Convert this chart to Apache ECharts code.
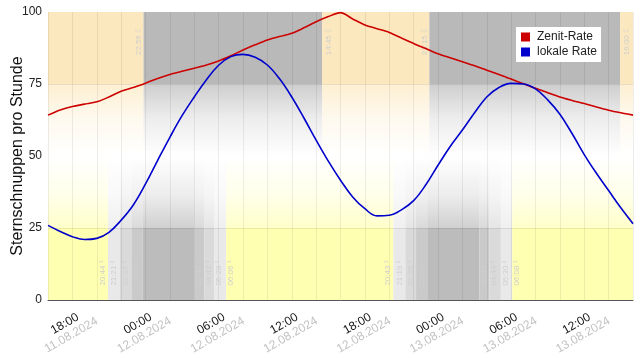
<!DOCTYPE html>
<html><head><meta charset="utf-8">
<script src="https://cdn.jsdelivr.net/npm/echarts@6/dist/echarts.min.js"></script>
<style>html,body{margin:0;padding:0;background:#fff}#c{width:640px;height:358px}</style>
</head><body><div id="c"></div>
<script>
// Hours since 11.08.2024 16:00
const hours = [0,1,2,3,4,5,6,7,8,9,10,11,12,13,14,15,16,17,18,19,20,21,22,23,24,25,26,27,28,29,30,31,32,33,34,35,36,37,38,39,40,41,42,43,44,45,46,47,48];
const zenitRate = [64.2,66.0,67.2,68.0,68.8,70.5,72.5,73.8,75.3,76.9,78.3,79.4,80.5,81.6,83.0,84.8,86.8,88.6,90.3,91.5,92.6,94.5,96.6,98.4,99.8,97.6,95.5,94.2,92.9,91.0,89.1,87.3,85.5,84.1,82.7,81.3,79.8,78.3,76.7,75.1,73.5,72.0,70.5,69.3,68.2,67.0,65.9,65.0,64.2];
const lokaleRate = [25.9,23.8,22.0,21.0,21.4,23.5,27.7,33.0,40.3,48.5,56.5,64.0,70.5,76.5,81.5,84.5,85.3,84.3,81.6,76.8,70.5,63.2,55.5,48.2,41.6,35.8,31.7,29.2,29.4,31.3,34.5,40.0,46.8,53.3,59.0,65.0,70.5,73.8,75.2,75.0,73.3,69.5,64.5,57.8,50.5,44.0,38.0,32.0,26.5];

const tickHours = [2,8,14,20,26,32,38,44];
const tickTimes = ['18:00','00:00','06:00','12:00','18:00','00:00','06:00','12:00'];
const tickDates = ['11.08.2024','12.08.2024','12.08.2024','12.08.2024','12.08.2024','13.08.2024','13.08.2024','13.08.2024'];

// Moon: starts up; events alternate set / rise
const moonEventHours = [7.84, 22.49, 31.29, 46.94];
const moonEventLabels = ['22:56','14:45','23:15','16:00'];
const moonEventKinds = ['set','rise','set','rise'];

// Sun: level after each event (0 day,1 civil,2 nautical,3 astronomical,4 night)
const sunEventHours = [4.92,5.88,6.84,7.76,12.02,12.84,13.66,14.62,28.34,29.32,30.20,31.12,35.40,36.22,37.16,38.09];
const sunEventLabels = ['20:44','21:21','22:07','23:03','03:46','04:42','05:28','06:06','20:43','21:19','22:05','23:00','03:49','04:44','05:30','06:08'];
const sunLevelAfter = [1,2,3,4,3,2,1,0,1,2,3,4,3,2,1,0];

// ---- styles ----
const sunColors = ['#ffffb2','#e9e9ea','#dadada','#cacaca','#bcbcbc'];
const moonColors = {up:'#fce8be', down:'#b9b9b9'};
const supers = ['','¹','²','³','⁴'];
const FONT = '"Liberation Sans", Arial, sans-serif';

function rgba(hex, a){
  const n = parseInt(hex.slice(1),16);
  return 'rgba('+((n>>16)&255)+','+((n>>8)&255)+','+(n&255)+','+a+')';
}

const moonSegs = [];
{ let prev = 0, state = 'up';
  moonEventHours.forEach((h,i)=>{ moonSegs.push([prev,h,state]); prev=h; state = moonEventKinds[i]==='set'?'down':'up'; });
  moonSegs.push([prev,48,state]); }
const sunSegs = [];
{ let prev = 0, lvl = 0;
  sunEventHours.forEach((h,i)=>{ sunSegs.push([prev,h,lvl]); prev=h; lvl = sunLevelAfter[i]; });
  sunSegs.push([prev,48,lvl]); }

function bandRender(segs, colorOf, top){
  return function(params, api){
    const s = segs[params.dataIndex];
    const c = colorOf(s[2]);
    const yb0 = top ? 75 : 0, yb1 = top ? 100 : 25;
    const p0 = api.coord([s[0], yb1]);
    const p1 = api.coord([s[1], yb0]);
    const g0 = api.coord([s[0], top ? 75 : 50]);
    const g1 = api.coord([s[1], top ? 50 : 25]);
    const stops = top
      ? [{offset:0,color:rgba(c,0.7)},{offset:0.45,color:rgba(c,0.28)},{offset:1,color:rgba(c,0)}]
      : [{offset:0,color:rgba(c,0)},{offset:0.55,color:rgba(c,0.28)},{offset:1,color:rgba(c,0.7)}];
    return {type:'group', children:[
      {type:'rect', shape:{x:p0[0], y:p0[1], width:p1[0]-p0[0], height:p1[1]-p0[1]}, style:{fill:c}},
      {type:'rect', shape:{x:g0[0], y:g0[1], width:g1[0]-g0[0], height:g1[1]-g0[1]},
       style:{fill:new echarts.graphic.LinearGradient(0,0,0,1,stops)}}
    ]};
  };
}

function labelRender(hoursArr, textOf, offOf, yVal){
  return function(params, api){
    const i = params.dataIndex;
    const p = api.coord([hoursArr[i], yVal]);
    return {type:'text', x:p[0]+offOf(i), y:p[1], rotation:Math.PI/2,
      style:{text:textOf(i), fill:'#cfcfcf', fontSize:8, fontFamily:FONT, align:'left', verticalAlign:'middle'}};
  };
}

const chart = echarts.init(document.getElementById('c'), null, {renderer:'canvas'});
chart.setOption({
  animation:false,
  grid:{left:48, right:7, top:12, bottom:58, containLabel:false, outerBoundsMode:'none'},
  legend:{
    data:['Zenit-Rate','lokale Rate'], orient:'vertical', left:516, top:27,
    backgroundColor:'#fff', padding:[4,4,4,5], itemGap:3, itemWidth:9, itemHeight:9, icon:'rect',
    textStyle:{fontSize:12, color:'#222', fontFamily:FONT, padding:[0,0,0,2]}
  },
  xAxis:{
    type:'value', min:0, max:48, interval:2,
    axisLine:{lineStyle:{color:'#555'}}, axisTick:{show:false},
    splitLine:{show:true, lineStyle:{color:'rgba(0,0,0,0.07)'}},
    axisLabel:{
      rotate:30, align:'center', verticalAlign:'middle', margin:27, padding:[0,10,0,0],
      formatter:function(v){ const i = tickHours.indexOf(v); return i<0 ? '' : '{t|'+tickTimes[i]+'}\n{d|'+tickDates[i]+'}'; },
      rich:{
        t:{fontSize:12, color:'#111', fontFamily:FONT, align:'center', lineHeight:13},
        d:{fontSize:12, color:'#c2c2c2', fontFamily:FONT, align:'center', lineHeight:13}
      }
    }
  },
  yAxis:{
    type:'value', min:0, max:100, interval:25,
    name:'Sternschnuppen pro Stunde', nameLocation:'middle', nameGap:22, nameRotate:90, nameMoveOverlap:false,
    nameTextStyle:{fontSize:16, color:'#111', fontFamily:FONT},
    axisLine:{show:false}, axisTick:{show:false},
    axisLabel:{fontSize:12, color:'#222', margin:6, fontFamily:FONT},
    splitLine:{show:true, lineStyle:{color:['rgba(0,0,0,0)','rgba(0,0,0,0.08)','rgba(0,0,0,0)','rgba(0,0,0,0.08)','rgba(0,0,0,0)']}}
  },
  series:[
    {type:'custom', z:-2, silent:true, clip:true, renderItem:bandRender(moonSegs, s=>moonColors[s], true),
     data:moonSegs.map(s=>[s[0],s[1]]), encode:{x:[0,1]}},
    {type:'custom', z:-2, silent:true, clip:true, renderItem:bandRender(sunSegs, l=>sunColors[l], false),
     data:sunSegs.map(s=>[s[0],s[1]]), encode:{x:[0,1]}},
    {type:'custom', z:3, silent:true, clip:true,
     renderItem:labelRender(moonEventHours, i=>moonEventLabels[i]+' ☾', i=>moonEventKinds[i]==='set'?-5:6.5, 85),
     data:moonEventHours.map(h=>[h]), encode:{x:0}},
    {type:'custom', z:3, silent:true, clip:true,
     renderItem:labelRender(sunEventHours, i=>{
        const before = i===0?0:sunLevelAfter[i-1];
        return sunEventLabels[i]+' '+supers[Math.max(before,sunLevelAfter[i])];
     }, i=>{ const before = i===0?0:sunLevelAfter[i-1]; return sunLevelAfter[i]>before?-5.5:4.5; }, 5),
     data:sunEventHours.map(h=>[h]), encode:{x:0}},
    {name:'Zenit-Rate', type:'line', smooth:0.3, showSymbol:false, z:5,
     lineStyle:{color:'#cc0000', width:1.6}, itemStyle:{color:'#cc0000'},
     data:hours.map((h,i)=>[h,zenitRate[i]])},
    {name:'lokale Rate', type:'line', smooth:0.4, showSymbol:false, z:5,
     lineStyle:{color:'#0000cc', width:1.6}, itemStyle:{color:'#0000cc'},
     data:hours.map((h,i)=>[h,lokaleRate[i]])}
  ]
});
</script></body></html>
